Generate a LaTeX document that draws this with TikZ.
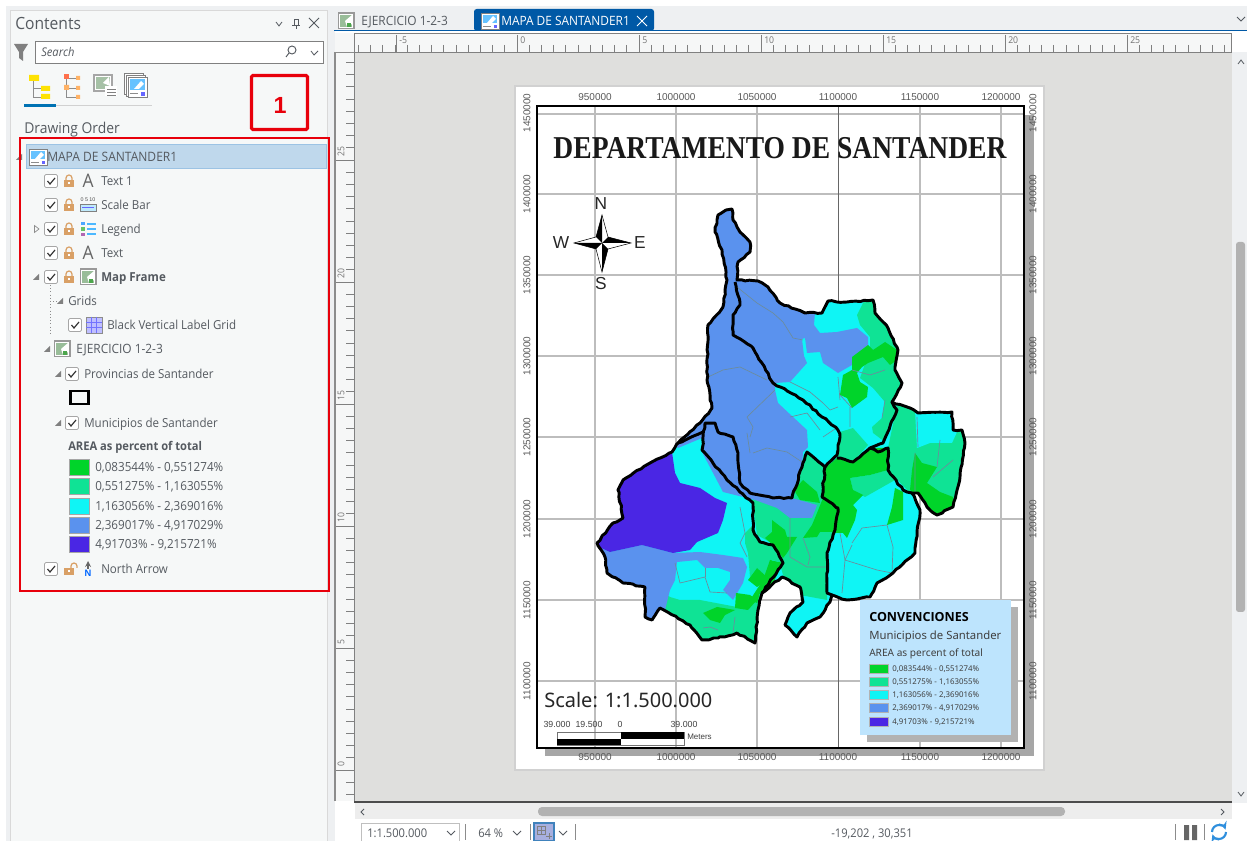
\documentclass[tikz,border=0pt]{standalone}
\usepackage{fontspec}
\usepackage{graphicx}
\usetikzlibrary{decorations.pathmorphing}
\setmainfont[FakeStretch=0.93]{Open Sans}
\newfontfamily\boldlegf{Open Sans}
\newfontfamily\arialf{Liberation Sans}
\newfontfamily\serf{Liberation Serif}
\newfontfamily\tahf{Noto Sans}
\definecolor{uitext}{HTML}{555A60}
\definecolor{panelbg}{HTML}{F6F8F8}
\definecolor{canvasbg}{HTML}{DFDFDD}
\definecolor{rulerbg}{HTML}{F6F7F7}
\definecolor{tabblue}{HTML}{0059A6}
\definecolor{stripbg}{HTML}{EEF0F2}
\definecolor{cDG}{HTML}{00D42A}
\definecolor{cTE}{HTML}{0FE395}
\definecolor{cCY}{HTML}{0FF5F5}
\definecolor{cBL}{HTML}{5A92EE}
\definecolor{cPU}{HTML}{4A26E4}
\definecolor{gridg}{HTML}{BDBDBD}
\definecolor{muni}{HTML}{6C8C9C}
\definecolor{redbox}{HTML}{E8000B}
\definecolor{lockc}{HTML}{D9A066}
\definecolor{legbg}{HTML}{BDE4FD}
\definecolor{rowedge}{HTML}{9CC3E4}
\definecolor{rowfill}{HTML}{BFD8EC}
\definecolor{refreshc}{HTML}{2F8FDD}
\tikzset{
 x=0.75pt,y=-0.75pt,
 uilabel/.style={text=uitext,anchor=base west,yshift=-3.3pt,inner sep=0pt,font=\fontsize{9.3}{10}\selectfont},
 legtxt/.style={text=uitext,anchor=base west,yshift=-3.3pt,inner sep=0pt,font=\fontsize{9.4}{10}\selectfont},
 coordlab/.style={text=black!65,inner sep=0pt,font=\arialf\fontsize{7.5}{8}\selectfont},
 coordrot/.style={coordlab,rotate=90},
 gridline/.style={gridg,line width=1.3pt},
 prov/.style={black,line width=2.2pt,line join=round,decorate,decoration={random steps,segment length=3.2pt,amplitude=0.55pt}},
 munil/.style={muni,line width=0.5pt,line join=round},
 rulertick/.style={black!50,line width=0.5pt},
 rulerlab/.style={text=black!55,inner sep=0pt,font=\fontsize{7}{8}\selectfont},
 mapleg/.style={text=black!75,anchor=west,inner sep=0pt,font=\tahf\fontsize{5.9}{6.5}\selectfont},
 swatchleg/.style={draw=black!30,line width=0.4pt},
 swatchtoc/.style={draw=black!35,line width=0.4pt},
 compasslab/.style={text=black!85,inner sep=0pt,font=\arialf\fontsize{13}{14}\selectfont},
 chev/.style={uitext,line width=0.6pt},
}
\pgfmathsetseed{7}
\newcommand{\cbx}[2]{\begin{scope}[shift={(#1,#2)}]
 \draw[black!35,fill=white,rounded corners=1pt,line width=0.5pt] (-6.5,-6.5) rectangle (6.5,6.5);
 \draw[black!80,line width=0.9pt] (-3.5,0) -- (-1,3) -- (4,-3);
\end{scope}}
\newcommand{\lck}[2]{\begin{scope}[shift={(#1,#2)}]
 \fill[lockc] (-5,-1) rectangle (5,6);
 \draw[lockc,line width=0.9pt] (-3,-1) -- (-3,-3) arc[start angle=180,end angle=360,radius=3] -- (3,-1);
 \fill[white] (-1,1.5) rectangle (1,3.5);
\end{scope}}
\newcommand{\trid}[2]{\fill[black!50] (#1+3,#2-3) -- (#1+3,#2+3) -- (#1-3,#2+3) -- cycle;}
\newcommand{\mapicon}[2]{\begin{scope}[shift={(#1,#2)}]
 \fill[black!40] (-8.5,-8.5) rectangle (8.5,8.5);
 \fill[white] (-7,-7) rectangle (7,7);
 \fill[green!35!black!40] (-6,-6) rectangle (6,6);
 \fill[white] (-1,0) -- (6,-6) -- (6,3) -- (1,6) -- cycle;
 \fill[green!50!black!70] (1,2) rectangle (5,6);
\end{scope}}
\newcommand{\layouticon}[2]{\begin{scope}[shift={(#1,#2)}]
 \draw[black!50,fill=white,line width=0.6pt] (-9,-8) rectangle (9,8);
 \fill[blue!40!cyan!60] (-7,-6) rectangle (7,2);
 \fill[white] (-3,2) -- (3,-5) -- (6,-2) -- (2,2) -- cycle;
 \draw[black!45,line width=0.6pt] (-7,5) -- (1,5);
 \fill[blue!60] (4,4) rectangle (7,7);
\end{scope}}
\newcommand{\Aicon}[2]{\node[anchor=center,inner sep=0pt,text=black!60,font=\fontsize{14}{15}\selectfont] at (#1,#2) {A};}
\begin{document}
\begin{tikzpicture}
\useasboundingbox (0,0) rectangle (1247,841);
% window
\fill[white] (0,0) rectangle (1247,841);
\fill[stripbg] (6,6) rectangle (1247,31);
\fill[stripbg] (6,6) rectangle (335,841);
\fill[panelbg] (10,10) rectangle (327,841);
\draw[black!15,line width=0.5pt] (10,841) -- (10,10) -- (327,10) -- (327,841);
% tab strip
\mapicon{346}{21}
\node[uilabel,font=\fontsize{9.6}{10}\selectfont] (tabA) at (361,21) {EJERCICIO 1-2-3};
\fill[tabblue,rounded corners=2pt] (474,9) rectangle (654,31);
\layouticon{490}{21}
\node[uilabel,text=white,font=\fontsize{9.6}{10}\selectfont] (tabB) at (501,21) {MAPA DE SANTANDER1};
\draw[white,line width=0.7pt] (637,16) -- (647,26) (647,16) -- (637,26);
\fill[tabblue] (334,30) rectangle (1247,31.5);
\draw[chev] (1237,17) -- (1241,21) -- (1245,17);
% canvas and rulers
\fill[canvasbg] (354,52) rectangle (1232,801);
\fill[rulerbg] (335,33) rectangle (1231,52);
\fill[rulerbg] (335,52) rectangle (354,801);
\foreach \i in {-13,...,58}{
  \pgfmathsetmacro\xx{517+12.2*\i}
  \draw[rulertick] (\xx,45) -- (\xx,52);
}
\foreach \m/\t in {396/-5,517/0,639/5,761/10,883/15,1005/20,1127/25}{
  \draw[rulertick] (\m,35) -- (\m,52);
  \node[rulerlab,anchor=west] at (\m+3,40) {\t};
}
\foreach \i in {-58,...,2}{
  \pgfmathsetmacro\yy{770+12.2*\i}
  \draw[rulertick] (346,\yy) -- (354,\yy);
}
\foreach \m/\t in {770/0,648/5,526/10,404/15,282/20,160/25}{
  \draw[rulertick] (335,\m) -- (354,\m);
  \node[rulerlab,anchor=west,rotate=90] at (341,\m-3) {\t};
}
\draw[black!45,line width=0.8pt] (335,801) -- (335,52.5) -- (354,52.5);
\draw[black!50,line width=0.7pt] (354,801) -- (354,52) -- (1231,52) -- (1231,33) -- (354,33) -- (354,52);
% right scrollbar
\fill[white] (1232,33) rectangle (1247,52);
\fill[stripbg] (1232,52) rectangle (1247,803);
\fill[black!30,rounded corners=2pt] (1236,242) rectangle (1245,612);
\draw[chev] (1238,64) -- (1241,60) -- (1244,64);
\draw[chev] (1238,792) -- (1241,796) -- (1244,792);
% bottom
\fill[black!70] (354,801) rectangle (1232,802.5);
\fill[black!7] (355,803) rectangle (1232,819);
\fill[black!30,rounded corners=3pt] (538,807) rectangle (1065,816);
\draw[chev] (364,809) -- (361,812) -- (364,815);
\draw[chev] (1221,809) -- (1224,812) -- (1221,815);
\fill[white] (361,823) rectangle (459,841);
\draw[black!25,line width=0.5pt] (361,841) -- (361,823) -- (459,823) -- (459,841);
\node[uilabel,font=\fontsize{9}{10}\selectfont] (scalebox) at (367,833) {1:1.500.000};
\draw[chev] (447,831) -- (451,835) -- (455,831);
\draw[black!45,line width=0.5pt] (465,824) -- (465,840);
\node[uilabel,font=\fontsize{9}{10}\selectfont] (zoomtxt) at (478,833) {64 \%};
\draw[chev] (513,831) -- (517,835) -- (521,831);
\draw[black!45,line width=0.5pt] (530,824) -- (530,840);
\draw[fill=cyan!30!blue!35,draw=tabblue!75,line width=0.8pt] (534,823) rectangle (554,841);
\draw[black!50,line width=0.5pt] (537,826) rectangle (545,834) (541,826) -- (541,834) (537,830) -- (545,830) (549,833) -- (549,839) (546,836) -- (552,836);
\draw[chev] (559,831) -- (563,835) -- (567,831);
\draw[black!45,line width=0.5pt] (575,824) -- (575,840);
\node[uilabel,anchor=base,font=\fontsize{9}{10}\selectfont] (coords) at (872,833) {-19,202 , 30,351};
\draw[black!45,line width=0.5pt] (1175,824) -- (1175,840);
\fill[black!60] (1184,825) rectangle (1189,840) (1192,825) rectangle (1197,840);
\draw[black!45,line width=0.5pt] (1204,824) -- (1204,840);
\draw[refreshc,line width=1.6pt,-stealth] (1212,832) arc[start angle=180,end angle=340,radius=7];
\draw[refreshc,line width=1.6pt,-stealth] (1226,832) arc[start angle=0,end angle=160,radius=7];
% ---- layout page
\fill[black!18] (514,85) rectangle (1045,771);
\fill[white] (516,87) rectangle (1043,769);
\fill[black!35] (545,115) rectangle (1034,756);
\fill[white] (537,106) rectangle (1024,748);
\begin{scope}
 \clip (537,106) rectangle (1024,748);
 \foreach \g in {595,676,757,920,1001} \draw[gridline] (\g,106) -- (\g,748);
 \foreach \g in {114,194,275,356,437,519,600,681} \draw[gridline] (537,\g) -- (1024,\g);
 \draw[black!60,line width=0.5pt] (838,106) -- (838,748);
\end{scope}
% ---- map
\def\outl{(726,210) -- (732,209) -- (733,220) -- (740,232) -- (750,242) -- (750,252) -- (738,262) -- (737,280) -- (758,281) -- (768,287) -- (780,303) -- (805,313) -- (822,313) -- (828,301) -- (847,302) -- (873,300) -- (875,313) -- (888,328) -- (898,350) -- (895,370) -- (902,383) -- (892,402) -- (910,408) -- (918,413) -- (952,412) -- (953,430) -- (962,430) -- (965,443) -- (960,477) -- (953,507) -- (937,515) -- (927,507) -- (918,493) -- (912,493) -- (920,510) -- (915,553) -- (893,573) -- (877,583) -- (870,597) -- (847,600) -- (832,595) -- (830,602) -- (820,617) -- (807,623) -- (797,637) -- (785,625) -- (790,613) -- (803,602) -- (800,587) -- (782,577) -- (762,593) -- (758,610) -- (755,643) -- (737,633) -- (718,638) -- (702,640) -- (690,625) -- (660,608) -- (652,620) -- (645,617) -- (645,587) -- (623,583) -- (607,573) -- (605,557) -- (597,543) -- (613,523) -- (623,518) -- (618,490) -- (623,480) -- (650,463) -- (672,452) -- (678,443) -- (700,423) -- (712,408) -- (707,380) -- (708,325) -- (723,307) -- (727,280) -- (722,250) -- (715,232) -- (718,215) -- cycle}
\begin{scope}
 \clip \outl;
 \fill[cCY] (590,200) rectangle (980,650);
 % teal zones
 \fill[cTE] (867,295) -- (857,315) -- (860,325) -- (870,337) -- (870,350) -- (860,378) -- (873,388) -- (885,402) -- (900,400) -- (910,340) -- (885,295) -- cycle;
 \fill[cTE] (885,400) -- (882,418) -- (872,427) -- (873,433) -- (885,442) -- (897,410) -- (895,400) -- cycle;
 \fill[cTE] (897,405) -- (970,405) -- (975,520) -- (912,495) -- (888,470) -- (888,448) -- cycle;
 \fill[cTE] (840,432) -- (853,428) -- (868,445) -- (853,462) -- (837,458) -- cycle;
 \fill[cTE] (752,497) -- (825,497) -- (837,510) -- (835,530) -- (827,553) -- (827,600) -- (800,595) -- (783,575) -- (775,545) -- (757,535) -- cycle;
 \fill[cTE] (807,452) -- (825,467) -- (822,497) -- (790,497) -- (800,465) -- cycle;
 \fill[cTE] (850,478) -- (870,475) -- (888,470) -- (895,480) -- (865,497) -- (853,490) -- cycle;
 \fill[cTE] (745,533) -- (753,525) -- (757,540) -- (775,547) -- (783,563) -- (772,560) -- (767,577) -- (757,568) -- (750,577) -- (748,553) -- (745,543) -- cycle;
 \fill[cTE] (660,590) -- (670,597) -- (680,600) -- (700,600) -- (737,607) -- (760,595) -- (770,650) -- (650,650) -- cycle;
 % blue
 \fill[cBL] (715,200) -- (740,200) -- (755,255) -- (737,278) -- (760,278) -- (770,285) -- (782,300) -- (805,310) -- (815,312) -- (814,325) -- (820,333) -- (837,332) -- (857,328) -- (868,337) -- (868,348) -- (852,357) -- (852,365) -- (838,373) -- (823,363) -- (820,352) -- (807,353) -- (805,338) -- (802,339) -- (804,356) -- (807,363) -- (790,382) -- (775,383) -- (775,390) -- (778,403) -- (793,417) -- (807,430) -- (808,447) -- (803,452) -- (802,467) -- (792,498) -- (817,505) -- (812,518) -- (790,518) -- (777,508) -- (755,500) -- (723,492) -- (702,452) -- (702,438) -- (678,448) -- (670,440) -- (690,410) -- (700,200) -- cycle;
 \fill[cBL] (590,543) -- (610,552) -- (642,545) -- (673,553) -- (700,552) -- (723,555) -- (743,558) -- (747,567) -- (743,583) -- (733,600) -- (723,590) -- (730,580) -- (730,572) -- (718,568) -- (705,568) -- (697,560) -- (677,562) -- (675,580) -- (670,590) -- (665,610) -- (650,630) -- (630,610) -- (590,580) -- cycle;
 % purple
 \fill[cPU] (672,452) -- (675,473) -- (680,483) -- (700,488) -- (715,498) -- (727,503) -- (723,520) -- (718,533) -- (697,542) -- (690,550) -- (673,553) -- (642,545) -- (610,552) -- (590,543) -- (590,480) -- (660,440) -- cycle;
 % dark green
 \fill[cDG] (852,357) -- (868,345) -- (873,350) -- (885,342) -- (897,350) -- (900,358) -- (890,365) -- (883,357) -- (868,363) -- (862,367) -- (857,373) -- (860,382) -- (868,387) -- (867,397) -- (852,408) -- (847,398) -- (840,395) -- (843,375) -- (852,370) -- cycle;
 \fill[cDG] (915,453) -- (922,463) -- (937,467) -- (927,483) -- (940,492) -- (953,497) -- (955,510) -- (937,518) -- (925,510) -- (915,495) -- (910,490) -- (912,470) -- cycle;
 \fill[cDG] (825,468) -- (837,458) -- (853,462) -- (870,448) -- (888,448) -- (888,470) -- (870,475) -- (850,478) -- (853,490) -- (863,495) -- (853,505) -- (857,510) -- (855,520) -- (847,538) -- (843,533) -- (832,533) -- (838,508) -- (822,497) -- cycle;
 \fill[cDG] (895,488) -- (903,492) -- (903,520) -- (887,525) -- (892,507) -- cycle;
 \fill[cDG] (794,490) -- (803,480) -- (817,492) -- (820,503) -- (800,500) -- cycle;
 \fill[cDG] (817,513) -- (823,498) -- (838,508) -- (835,532) -- (820,532) -- (817,537) -- (803,538) -- (812,525) -- cycle;
 \fill[cDG] (772,520) -- (785,530) -- (787,537) -- (797,537) -- (787,553) -- (783,558) -- (773,545) -- (765,538) -- (772,532) -- cycle;
 \fill[cDG] (770,560) -- (783,563) -- (773,583) -- (760,593) -- (757,603) -- (750,600) -- (763,580) -- cycle;
 \fill[cDG] (748,580) -- (757,568) -- (767,577) -- (763,583) -- (757,587) -- cycle;
 \fill[cDG] (736,593) -- (750,595) -- (757,600) -- (748,610) -- (735,608) -- cycle;
 \fill[cDG] (703,613) -- (717,607) -- (735,610) -- (725,615) -- (720,623) -- (710,620) -- cycle;
 % cyan on top of the east lobe
 \fill[cCY] (915,410) -- (955,405) -- (957,432) -- (952,443) -- (930,443) -- (917,448) -- cycle;
 % municipal lines
 \draw[munil] (708,377) -- (723,370) -- (740,367) -- (767,380);
 \draw[munil] (737,287) -- (757,303) -- (773,313) -- (783,322) -- (793,338) -- (803,340);
 \draw[munil] (775,390) -- (747,417) -- (753,427) -- (750,437);
 \draw[munil] (790,382) -- (810,392) -- (823,403) -- (830,410) -- (838,407);
 \draw[munil] (838,377) -- (840,400) (850,407) -- (850,427) (885,400) -- (882,418);
 \draw[munil] (790,417) -- (807,413) -- (820,430) (823,437) -- (838,427) (917,417) -- (918,447);
 \draw[munil] (740,507) -- (745,533) -- (740,543) -- (747,557);
 \draw[munil] (675,563) -- (680,583) -- (705,577) -- (710,592) -- (727,593);
 \draw[munil] (705,568) -- (705,577);
 \draw[munil] (753,453) -- (767,448) -- (787,452) -- (802,462) (750,453) -- (747,433);
 \draw[munil] (852,543) -- (862,528) -- (887,525) -- (893,547) -- (892,573);
 \draw[munil] (852,545) -- (845,560) -- (842,593) (845,560) -- (877,570) -- (892,573);
 \draw[munil] (790,557) -- (807,567) -- (827,567) (803,538) -- (810,557) -- (808,565);
 \draw[munil] (735,617) -- (733,633) (703,628) -- (710,627) -- (718,630);
 \draw[munil] (953,460) -- (933,477) (915,453) -- (915,495) (940,440) -- (937,467);
 \draw[munil] (852,370) -- (870,375) -- (885,370) (840,395) -- (852,408);
 \draw[munil] (790,518) -- (790,557) (840,533) -- (845,560);
\end{scope}
% province boundaries
\draw[prov] (735,282) -- (740,305) -- (733,315) -- (733,335) -- (753,348) -- (773,383) -- (803,400) -- (838,430) -- (840,437) -- (837,455) -- (825,467) -- (807,452) -- (802,467) -- (792,498) -- (773,498) -- (750,493) -- (740,483) -- (738,453) -- (733,437) -- (718,432) -- (715,423) -- (705,423) -- (702,450) -- (727,480) -- (753,503) -- (753,530) -- (760,542) -- (773,545) -- (783,563) -- (762,593);
\draw[prov] (837,458) -- (853,462) -- (870,448) -- (878,452) -- (888,448) -- (888,470) -- (903,490) -- (912,493);
\draw[prov] (892,402) -- (897,410) -- (883,443) -- (870,448);
\draw[prov] (825,467) -- (822,497) -- (838,508) -- (835,530) -- (827,553) -- (827,593) -- (832,595);
\draw[prov] (678,443) -- (703,432);
\draw[prov] \outl;
% frame
\draw[black,line width=1.6pt] (537,106) rectangle (1024,748);
% coordinate labels
\foreach \x/\t in {595/950000,676/1000000,757/1050000,838/1100000,920/1150000,1001/1200000}{
  \node[coordlab] at (\x,97) {\t};
  \node[coordlab] at (\x,757) {\t};
}
\foreach \y/\t in {113/1450000,194/1400000,275/1350000,356/1300000,437/1250000,519/1200000,600/1150000,681/1100000}{
  \node[coordrot] at (527,\y) {\t};
  \node[coordrot] at (1033,\y) {\t};
}
% title
\node[inner sep=0pt,text=black!90] (title) at (780,148) {\resizebox{339.75pt}{15.8pt}{\serf\bfseries DEPARTAMENTO DE SANTANDER}};
% compass
\node[compasslab] (cN) at (601,204) {N};
\node[compasslab] (cS) at (601,284) {S};
\node[compasslab] (cW) at (561,243) {W};
\node[compasslab] (cE) at (640,243) {E};
\begin{scope}[shift={(602,243)}]
 \draw[black,fill=white,line width=0.4pt] (0,-28) -- (-6,-6) -- (-28,0) -- (-6,6) -- (0,29) -- (6,6) -- (29,0) -- (6,-6) -- cycle;
 \fill[black] (0,-28) -- (-6,-6) -- (0,0) -- cycle;
 \fill[black] (29,0) -- (6,-6) -- (0,0) -- cycle;
 \fill[black] (0,29) -- (6,6) -- (0,0) -- cycle;
 \fill[black] (-28,0) -- (-6,6) -- (0,0) -- cycle;
\end{scope}
% legend box
\fill[black!30] (867,607) rectangle (1018,742);
\fill[legbg] (860,600) rectangle (1011,735);
\node[anchor=west,inner sep=0pt,text=black,font=\boldlegf\bfseries\fontsize{9.4}{11}\selectfont] (lgT) at (869,617) {CONVENCIONES};
\node[anchor=west,inner sep=0pt,text=black!75,font=\tahf\fontsize{8.5}{10}\selectfont] (lgM) at (869,637) {Municipios de Santander};
\node[anchor=west,inner sep=0pt,text=black!75,font=\tahf\fontsize{7.6}{9}\selectfont] (lgA) at (869,654) {AREA as percent of total};
\foreach \y/\c/\t in {669/cDG/{0,083544\% - 0,551274\%},682/cTE/{0,551275\% - 1,163055\%},695/cCY/{1,163056\% - 2,369016\%},708/cBL/{2,369017\% - 4,917029\%},722/cPU/{4,91703\% - 9,215721\%}}{
  \draw[swatchleg,fill=\c] (869,\y-4.5) rectangle (888,\y+4.5);
  \node[mapleg] at (892,\y) {\t};
}
% scale
\node[anchor=west,inner sep=0pt,text=black!85,font=\tahf\fontsize{15}{17}\selectfont] (scaletxt) at (544,700) {Scale: 1:1.500.000};
\foreach \x/\t in {557/39.000,589/19.500,620/0,684/39.000}
  \node[inner sep=0pt,text=black!75,font=\arialf\fontsize{6.6}{7}\selectfont] at (\x,724) {\t};
\draw[black!55,line width=0.5pt] (557,732) rectangle (684,745);
\fill[black] (621,732) rectangle (684,738.5);
\fill[black] (557,738.5) rectangle (621,745);
\node[anchor=west,inner sep=0pt,text=black!75,font=\arialf\fontsize{6}{7}\selectfont] (meters) at (687,737) {Meters};
% ---- left panel
\node[uilabel,yshift=-1.2pt,font=\fontsize{12.6}{13}\selectfont] (cont) at (15,24) {Contents};
\draw[chev] (276,22) -- (279,26) -- (282,22);
\draw[uitext,line width=0.6pt] (294,19) rectangle (298,25) (292,25) -- (300,25) (296,25) -- (296,29);
\draw[uitext,line width=0.7pt] (309,18) -- (319,28) (319,18) -- (309,28);
\fill[black!50] (14,44) -- (28,44) -- (23,52) -- (23,61) -- (19,58) -- (19,52) -- cycle;
\draw[black!50,fill=white,line width=0.6pt] (35,41) rectangle (323,63);
\node[uilabel,font=\itshape\fontsize{9}{10}\selectfont] (search) at (41,52) {Search};
\draw[uitext,line width=0.7pt] (292,50) circle[radius=4] (289,53) -- (286,57);
\draw[chev] (311,51) -- (314,55) -- (318,51);
% tool icons
\fill[yellow!85!orange] (29,75) rectangle (39,81) (41,86) rectangle (50,91) (41,94) rectangle (50,99);
\draw[black!45,line width=0.5pt] (33,81) -- (33,97) -- (41,97) (33,88) -- (41,88);
\draw[black!45,line width=0.5pt] (66,78) -- (66,97) -- (76,97) (66,88) -- (76,88) (66,78) -- (76,78);
\fill[red!60!orange!70] (64,74) rectangle (69,79);
\fill[orange!60] (64,85) rectangle (69,90) (76,76) rectangle (80,80) (76,86) rectangle (80,90) (76,95) rectangle (80,99);
\begin{scope}[shift={(104,84)}]
 \fill[black!35] (-11,-10) rectangle (9,8);
 \fill[white] (-9,-8) rectangle (7,6);
 \fill[green!30!black!35] (-8,-7) rectangle (6,5);
 \fill[white] (-1,-1) -- (5,-7) -- (6,2) -- cycle;
 \fill[white] (1,2) rectangle (13,12);
 \draw[black!50,line width=0.5pt] (3,5) -- (12,5) (3,8) -- (12,8) (3,11) -- (12,11);
\end{scope}
\begin{scope}[shift={(136,86)}]
 \draw[black!50,fill=white,line width=0.5pt] (-12,-13) rectangle (7,8);
 \draw[black!50,fill=white,line width=0.5pt] (-10,-11) rectangle (9,10);
 \draw[black!50,fill=white,line width=0.5pt] (-8,-9) rectangle (11,11);
 \fill[blue!40!cyan!60] (-6,-7) rectangle (9,4);
 \fill[white] (-2,3) -- (5,-5) -- (8,-2) -- (3,3) -- cycle;
 \fill[blue!60] (5,6) rectangle (9,10);
 \draw[black!45,line width=0.5pt] (-6,7) -- (2,7);
\end{scope}
\fill[tabblue!85!cyan] (24,104) rectangle (56,107);
\fill[black!18] (56,105) rectangle (152,106.5);
\node[uilabel,yshift=-0.5pt,font=\fontsize{11.2}{12}\selectfont] (draword) at (24,128) {Drawing Order};
% header row
\draw[rowedge,fill=rowfill,line width=0.6pt] (26,144.5) rectangle (326,168);
\trid{19}{157}
\layouticon{38}{157}
\node[uilabel,font=\fontsize{9.7}{10}\selectfont] (rootT) at (47,157) {MAPA DE SANTANDER1};
% rows
\cbx{51}{181}\lck{69}{181}\Aicon{88}{181}
\node[uilabel] (rowA) at (101,181) {Text 1};
\cbx{51}{205}\lck{69}{205}
\draw[black!50,line width=0.4pt,fill=cyan!25] (80,204) rectangle (96,211);
\node[inner sep=0pt,text=black!70,font=\arialf\fontsize{4}{4}\selectfont] (bar) at (88,200) {0 5 10};
\draw[blue!60,line width=0.7pt] (82,207.5) -- (94,207.5);
\node[uilabel] (rowB) at (101,205) {Scale Bar};
\draw[black!45,line width=0.5pt] (34.5,225.5) -- (39,229) -- (34.5,232.5) -- cycle;
\cbx{51}{229}\lck{69}{229}
\fill[blue!50!cyan!70] (81,222) rectangle (85,225.5);
\fill[green!60!black!60] (81,227.5) rectangle (85,231);
\fill[violet!60] (81,233) rectangle (85,236);
\draw[blue!40!cyan!70,line width=0.8pt] (87,224) -- (96,224) (87,229) -- (96,229) (87,234) -- (96,234);
\node[uilabel] (rowC) at (101,229) {Legend};
\cbx{51}{253}\lck{69}{253}\Aicon{88}{253}
\node[uilabel] (rowD) at (101,253) {Text};
\trid{36}{277}
\cbx{51}{277}\lck{69}{277}
\mapicon{88}{277}
\node[uilabel,font=\bfseries\fontsize{9.3}{10}\selectfont] (rowE) at (101,277) {Map Frame};
\draw[black!45,line width=0.4pt,dotted] (50,285) -- (50,336) (50,301) -- (57,301);
\trid{60}{301}
\node[uilabel] (rowF) at (68,301) {Grids};
\cbx{75}{325}
\draw[black!45,fill=blue!25,line width=0.5pt] (86,317) rectangle (102,333);
\draw[blue!55,line width=0.4pt] (86,322) -- (102,322) (86,327) -- (102,327) (91,317) -- (91,333) (96,317) -- (96,333);
\node[uilabel] (rowG) at (107,325) {Black Vertical Label Grid};
\trid{47}{349}
\mapicon{62}{349}
\node[uilabel,font=\fontsize{9.6}{10}\selectfont] (rowH) at (76,349) {EJERCICIO 1-2-3};
\trid{58}{374}
\cbx{72}{374}
\node[uilabel] (rowI) at (84,374) {Provincias de Santander};
\draw[black,line width=1.8pt] (70.5,391) rectangle (88.5,404);
\trid{58}{423}
\cbx{72}{423}
\node[uilabel] (rowJ) at (84,423) {Municipios de Santander};
\node[uilabel,font=\bfseries\fontsize{9}{10}\selectfont] (rowK) at (68,446) {AREA as percent of total};
\foreach \y/\c/\t in {467/cDG/{0,083544\% - 0,551274\%},486/cTE/{0,551275\% - 1,163055\%},506/cCY/{1,163056\% - 2,369016\%},525/cBL/{2,369017\% - 4,917029\%},544.5/cPU/{4,91703\% - 9,215721\%}}{
  \draw[swatchtoc,fill=\c] (69,\y-8) rectangle (89,\y+8);
  \node[legtxt] at (95,\y) {\t};
}
\cbx{51}{569}
\begin{scope}[shift={(69,569)}]
 \fill[lockc] (-5,-1) rectangle (5,6);
 \draw[lockc,line width=0.9pt] (2,-1) -- (2,-3) arc[start angle=180,end angle=360,radius=3] -- (8,-1);
 \fill[white] (-1,1.5) rectangle (1,3.5);
\end{scope}
\draw[black!60,line width=1pt,-stealth] (88,569) -- (88,561);
\node[inner sep=0pt,text=blue!60!cyan,font=\arialf\bfseries\fontsize{7}{8}\selectfont] (nArrow) at (88,573) {N};
\node[uilabel] (rowL) at (101,569) {North Arrow};
% red boxes
\draw[redbox,line width=2pt] (20,138) rectangle (329,591);
\draw[redbox,line width=2.4pt,rounded corners=1pt] (251.5,75.5) rectangle (307.5,129.5);
\node[inner sep=0pt,text=redbox,font=\arialf\bfseries\fontsize{17.5}{20}\selectfont] (one) at (280,105) {1};
\end{tikzpicture}
\end{document}
